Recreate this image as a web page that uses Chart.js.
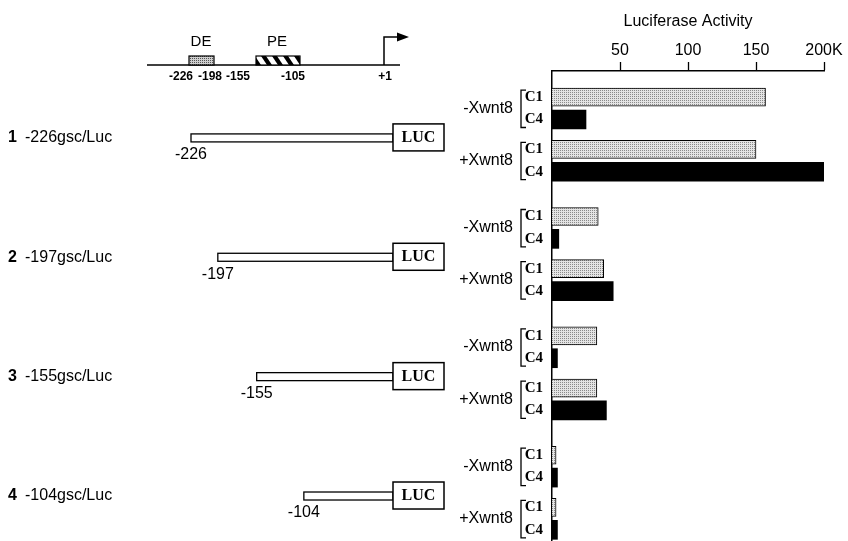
<!DOCTYPE html>
<html>
<head>
<meta charset="utf-8">
<script src="https://cdn.jsdelivr.net/npm/chart.js@4.4.0/dist/chart.umd.min.js"></script>
<style>
  html, body { margin: 0; padding: 0; background: #fff; overflow: hidden; }
  #wrap { width: 848px; height: 541px; position: relative; }
</style>
</head>
<body>
<div id="wrap"><canvas id="chart"></canvas></div>
<script>
// constructs and their 5' end (bp)
var constructs = ['-226gsc/Luc', '-197gsc/Luc', '-155gsc/Luc', '-104gsc/Luc'];
var constructStart = [-226, -197, -155, -104];
var conditions = ['-Xwnt8', '+Xwnt8'];

// luciferase activity (K units), one value per construct
var c1Minus = [157, 34, 33, 3];
var c4Minus = [25, 5, 4, 4];
var c1Plus = [150, 38, 33, 3];
var c4Plus = [200, 45, 40, 4];

var xTicks = [50, 100, 150, 200];

// promoter map
var mapBoxes = [{ name: 'DE', from: -226, to: -198 }, { name: 'PE', from: -155, to: -105 }];
var mapLabels = ['-226', '-198', '-155', '-105', '+1'];

var SANS = '"Liberation Sans", Arial, Helvetica, sans-serif';
var SERIF = '"Liberation Serif", "Times New Roman", serif';

// build the row layout: each construct takes 16 rows, bars sit on rows 3, 6, 10, 13
var PER_GROUP = 16;
var nRows = PER_GROUP * (constructs.length - 1) + 15;
var labels = [], c1Data = [], c4Data = [];
for (var i = 0; i < nRows; i++) { labels.push(''); c1Data.push(null); c4Data.push(null); }
function groupRows(g) {
    var b = g * PER_GROUP;
    return [b + 3, b + 6, b + 10, b + 13];
}
for (var g = 0; g < constructs.length; g++) {
    var r = groupRows(g);
    labels[r[0]] = 'C1'; c1Data[r[0]] = c1Minus[g];
    labels[r[1]] = 'C4'; c4Data[r[1]] = c4Minus[g];
    labels[r[2]] = 'C1'; c1Data[r[2]] = c1Plus[g];
    labels[r[3]] = 'C4'; c4Data[r[3]] = c4Plus[g];
}

function stipple(fg, bg) {
    var c = document.createElement('canvas');
    c.width = 2; c.height = 2;
    var x = c.getContext('2d');
    x.fillStyle = bg; x.fillRect(0, 0, 2, 2);
    x.fillStyle = fg; x.fillRect(0, 0, 1, 1);
    return x.createPattern(c, 'repeat');
}

// construct bar x position from bp
function cx(bp) { return 191 + (bp + 226) * 0.925; }

var annotate = {
    id: 'annotate',
    afterDraw: function (chart) {
        var ctx = chart.ctx, y = chart.scales.y;
        ctx.save();
        ctx.strokeStyle = '#000';
        ctx.fillStyle = '#000';

        // promoter map
        ctx.lineWidth = 1.5;
        ctx.beginPath(); ctx.moveTo(147, 65); ctx.lineTo(400, 65); ctx.stroke();
        // DE box
        ctx.fillStyle = stipple('#555', '#cfcfcf');
        ctx.fillRect(189, 56, 25, 9);
        ctx.lineWidth = 1.2;
        ctx.strokeRect(189, 56, 25, 9);
        // PE box with stripes
        ctx.save();
        ctx.beginPath(); ctx.rect(256, 56, 44, 9); ctx.clip();
        ctx.fillStyle = '#fff'; ctx.fillRect(256, 56, 44, 9);
        ctx.fillStyle = '#000';
        for (var s = 250; s < 310; s += 11) {
            ctx.beginPath();
            ctx.moveTo(s, 56); ctx.lineTo(s + 5, 56); ctx.lineTo(s + 11, 65); ctx.lineTo(s + 6, 65);
            ctx.closePath(); ctx.fill();
        }
        ctx.restore();
        ctx.lineWidth = 1.2;
        ctx.strokeRect(256, 56, 44, 9);
        // transcription start arrow
        ctx.fillStyle = '#000';
        ctx.lineWidth = 1.5;
        ctx.beginPath(); ctx.moveTo(384, 65); ctx.lineTo(384, 37); ctx.lineTo(399, 37); ctx.stroke();
        ctx.beginPath(); ctx.moveTo(397, 32.5); ctx.lineTo(409, 37); ctx.lineTo(397, 41.5); ctx.closePath(); ctx.fill();

        ctx.textBaseline = 'middle';
        ctx.textAlign = 'center';
        ctx.font = '15px ' + SANS;
        ctx.fillText(mapBoxes[0].name, 201, 42);
        ctx.fillText(mapBoxes[1].name, 277, 42);
        ctx.font = 'bold 12px ' + SANS;
        var mapLabelX = [181, 210, 238, 293, 385];
        mapLabels.forEach(function (t, k) { ctx.fillText(t, mapLabelX[k], 77); });

        // constructs and condition labels
        constructs.forEach(function (name, g) {
            var rows = groupRows(g);
            var mid = (y.getPixelForValue(rows[0]) + y.getPixelForValue(rows[3])) / 2 + 3.5;

            ctx.textAlign = 'left';
            ctx.font = 'bold 16px ' + SANS;
            ctx.fillText(String(g + 1), 8, mid);
            ctx.font = '16px ' + SANS;
            ctx.fillText(name, 25, mid);

            var x0 = cx(constructStart[g]);
            ctx.lineWidth = 1.3;
            ctx.strokeRect(x0, mid - 4, 393 - x0, 8);
            ctx.fillStyle = '#fff';
            ctx.fillRect(393, mid - 14, 51, 27);
            ctx.fillStyle = '#000';
            ctx.lineWidth = 1.5;
            ctx.strokeRect(393, mid - 14, 51, 27);
            ctx.textAlign = 'center';
            ctx.font = 'bold 16px ' + SERIF;
            ctx.fillText('LUC', 418.5, mid);
            ctx.font = '16px ' + SANS;
            ctx.fillText(String(constructStart[g]), x0, mid + 17);

            conditions.forEach(function (cond, k) {
                var yA = y.getPixelForValue(rows[2 * k]);
                var yB = y.getPixelForValue(rows[2 * k + 1]);
                ctx.textAlign = 'right';
                ctx.font = '16px ' + SANS;
                ctx.fillText(cond, 513, (yA + yB) / 2);
                ctx.lineWidth = 1.3;
                ctx.beginPath();
                ctx.moveTo(526, yA - 7); ctx.lineTo(521, yA - 7);
                ctx.lineTo(521, yB + 8); ctx.lineTo(526, yB + 8);
                ctx.stroke();
            });
        });
        ctx.restore();
    }
};

function noPadding(scale) {
    scale.paddingTop = 0; scale.paddingBottom = 0;
    scale.paddingLeft = 0; scale.paddingRight = 0;
}

var ctx = document.getElementById('chart').getContext('2d');
var chart = new Chart(ctx, {
    type: 'bar',
    data: {
        labels: labels,
        datasets: [{
            label: 'C1',
            data: c1Data,
            backgroundColor: stipple('#8a8a8a', '#e4e4e4'),
            borderColor: '#000',
            borderWidth: 1,
            borderSkipped: 'start',
            barThickness: 18,
            grouped: false
        }, {
            label: 'C4',
            data: c4Data,
            backgroundColor: '#000',
            borderColor: '#000',
            borderWidth: 0,
            barThickness: 19,
            grouped: false
        }]
    },
    options: {
        indexAxis: 'y',
        responsive: true,
        maintainAspectRatio: false,
        animation: false,
        layout: { padding: { left: 492, right: 24, top: 0, bottom: 0 } },
        plugins: { legend: { display: false }, tooltip: { enabled: false } },
        scales: {
            x: {
                type: 'linear',
                position: 'top',
                min: 0,
                max: 200,
                afterBuildTicks: function (scale) {
                    scale.ticks = xTicks.map(function (v) { return { value: v }; });
                },
                afterFit: function (scale) { scale.height = 71; noPadding(scale); },
                ticks: {
                    color: '#000',
                    font: { family: SANS, size: 16 },
                    padding: 2,
                    maxRotation: 0,
                    callback: function (v) { return v === 200 ? '200K' : String(v); }
                },
                grid: { drawOnChartArea: false, color: '#000', tickLength: 9, tickWidth: 1.3 },
                border: { display: true, color: '#000', width: 1.5 },
                title: {
                    display: true,
                    text: 'Luciferase Activity',
                    color: '#000',
                    font: { family: SANS, size: 16 },
                    padding: { top: 12, bottom: 0 }
                }
            },
            y: {
                type: 'category',
                afterFit: function (scale) { scale.width = 60; noPadding(scale); },
                ticks: {
                    autoSkip: false,
                    color: '#000',
                    font: { family: SERIF, size: 15, weight: 'bold' },
                    padding: 9
                },
                grid: { display: false, drawTicks: false },
                border: { display: true, color: '#000', width: 1.5 }
            }
        }
    },
    plugins: [annotate]
});
</script>
</body>
</html>
